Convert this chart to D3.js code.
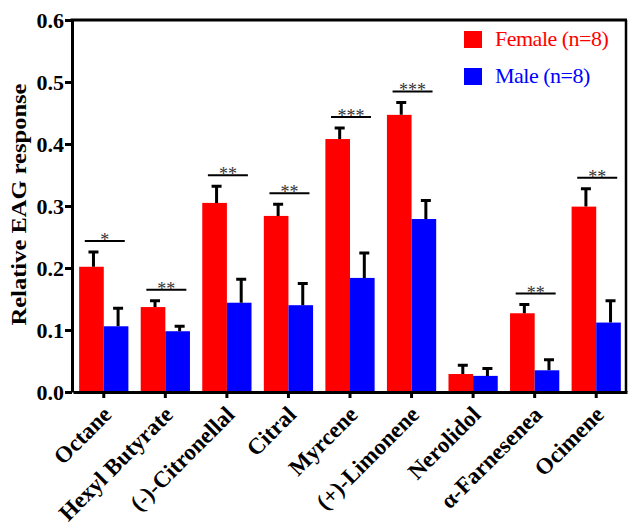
<!DOCTYPE html>
<html>
<head>
<meta charset="utf-8">
<script src="https://cdn.jsdelivr.net/npm/d3@7"></script>
<style>
  html, body { margin: 0; padding: 0; background: #fff; }
  svg { display: block; }
</style>
</head>
<body>
<script>
// ---- data ----
const categories = ["Octane", "Hexyl Butyrate", "(-)-Citronellal", "Citral", "Myrcene",
                    "(+)-Limonene", "Nerolidol", "α-Farnesenea", "Ocimene"];
const femaleMeans = [0.202, 0.137, 0.305, 0.284, 0.408, 0.447, 0.029, 0.127, 0.299];
const femaleErr   = [0.024, 0.010, 0.027, 0.019, 0.018, 0.020, 0.014, 0.014, 0.029];
const maleMeans   = [0.106, 0.098, 0.144, 0.140, 0.184, 0.279, 0.026, 0.035, 0.112];
const maleErr     = [0.029, 0.008, 0.038, 0.035, 0.040, 0.030, 0.012, 0.017, 0.035];
const sigLabels   = ["*", "**", "**", "**", "***", "***", "", "**", "**"];
const seriesNames = ["Female (n=8)", "Male (n=8)"];
const seriesColors = ["#ff0000", "#0000ff"];
const yTicks = [0, 0.1, 0.2, 0.3, 0.4, 0.5, 0.6];
const yTitle = "Relative EAG response";

// ---- layout ----
const W = 628, H = 530;
const pLeft = 72, pRight = 626, pTop = 20, pBottom = 392;
const SERIF = '"Liberation Serif", "Times New Roman", serif';

const svg = d3.select("body").append("svg").attr("width", W).attr("height", H)
  .style("background", "#fff");

const y = d3.scaleLinear().domain([0, 0.6]).range([pBottom, pTop]);
const x = d3.scaleBand().domain(categories).range([73, 627]).paddingInner(0.2).paddingOuter(0.1);
const xs = d3.scaleBand().domain([0, 1]).range([0, x.bandwidth()]);

const rows = categories.map((c, i) => ({
  c, i,
  vals: [
    { s: 0, m: femaleMeans[i], e: femaleErr[i] },
    { s: 1, m: maleMeans[i], e: maleErr[i] }
  ]
}));

// bars
const g = svg.append("g");
const grp = g.selectAll("g.grp").data(rows).join("g").attr("class", "grp")
  .attr("transform", d => `translate(${x(d.c)},0)`);
grp.selectAll("rect").data(d => d.vals).join("rect")
  .attr("x", d => xs(d.s))
  .attr("y", d => y(d.m))
  .attr("width", xs.bandwidth())
  .attr("height", d => y(0) - y(d.m))
  .attr("fill", d => seriesColors[d.s]);

// error bars (upper only)
grp.selectAll("path.err").data(d => d.vals).join("path").attr("class", "err")
  .attr("d", d => {
    const cx = xs(d.s) + xs.bandwidth() / 2 + 2;
    const yt = y(d.m + d.e), yb = y(d.m);
    return `M${cx},${yb}V${yt}M${cx - 5},${yt}H${cx + 5}`;
  })
  .attr("stroke", "#000").attr("stroke-width", 3).attr("fill", "none");

// significance lines
const sig = svg.append("g");
rows.forEach(d => {
  const lab = sigLabels[d.i];
  if (!lab) return;
  const topV = Math.max(femaleMeans[d.i] + femaleErr[d.i], maleMeans[d.i] + maleErr[d.i]);
  const ly = y(topV) - 11;
  const cx = x(d.c) + x.bandwidth() / 2 + 1;
  sig.append("line").attr("x1", cx - 20).attr("x2", cx + 20).attr("y1", ly).attr("y2", ly)
    .attr("stroke", "#000").attr("stroke-width", 2);
  sig.append("text").attr("x", cx).attr("y", ly + 5).attr("text-anchor", "middle")
    .style("font-family", SERIF).style("font-size", "18px").attr("fill", "#333")
    .text(lab);
});

// axes
const yAxis = svg.append("g").attr("transform", `translate(${pLeft},0)`)
  .call(d3.axisLeft(y).tickValues(yTicks).tickFormat(d3.format(".1f")).tickSize(7).tickSizeOuter(0).tickPadding(1));
yAxis.select(".domain").attr("stroke-width", 3);
yAxis.selectAll(".tick line").attr("stroke-width", 3);
yAxis.selectAll(".tick text").style("font-family", SERIF).style("font-weight", "bold")
  .style("font-size", "22px").attr("fill", "#000").attr("dy", "0.33em");

const xAxis = svg.append("g").attr("transform", `translate(0,${pBottom})`)
  .call(d3.axisBottom(x).tickSize(6).tickSizeOuter(0));
xAxis.select(".domain").attr("stroke-width", 3);
xAxis.selectAll(".tick line").attr("stroke-width", 3);
xAxis.selectAll(".tick text")
  .attr("x", 0).attr("y", 0).attr("dy", 0)
  .attr("transform", "translate(9,24) rotate(-45)")
  .attr("text-anchor", "end")
  .style("font-family", SERIF).style("font-weight", "bold").style("font-size", "23px")
  .attr("fill", "#000");

// frame top & right
svg.append("line").attr("x1", pLeft - 1.5).attr("x2", pRight + 1).attr("y1", pTop).attr("y2", pTop)
  .attr("stroke", "#000").attr("stroke-width", 3);
svg.append("line").attr("x1", pRight).attr("x2", pRight).attr("y1", pTop).attr("y2", pBottom)
  .attr("stroke", "#000").attr("stroke-width", 2.5);

// y title
svg.append("text")
  .attr("transform", `translate(26,${(83 + 326) / 2}) rotate(-90)`)
  .attr("text-anchor", "middle")
  .style("font-family", SERIF).style("font-weight", "bold").style("font-size", "22px")
  .attr("textLength", 242).attr("lengthAdjust", "spacingAndGlyphs")
  .attr("fill", "#000")
  .text(yTitle);

// legend
const leg = svg.append("g");
seriesNames.forEach((n, i) => {
  const ly = 31 + i * 37;
  leg.append("rect").attr("x", 464).attr("y", ly).attr("width", 18).attr("height", 17)
    .attr("fill", seriesColors[i]);
  leg.append("text").attr("x", 495).attr("y", ly + 15)
    .style("font-family", SERIF).style("font-size", "22px").attr("fill", seriesColors[i])
    .attr("letter-spacing", -0.5)
    .text(n);
});
</script>
</body>
</html>
